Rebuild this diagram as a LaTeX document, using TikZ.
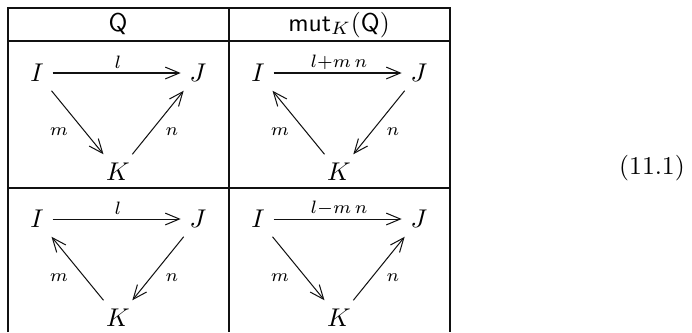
\documentclass[tikz,border=0pt]{standalone}
\usepackage{amsmath,amssymb}
\usepackage{tikz}
\usetikzlibrary{arrows.meta}
\definecolor{ink}{HTML}{111111}
\tikzset{
  obj/.style={inner sep=3.3pt},
  lbl/.style={inner sep=1pt},
  head/.style={anchor=base,inner sep=0pt},
  arr/.style={-{Straight Barb[length=5.5pt,width=4.6pt]},line width=0.4pt,draw=ink},
  rule/.style={line width=0.45pt,draw=ink}
}

\begin{document}
\begin{tikzpicture}[x=0.39pt,y=-0.39pt]
  \useasboundingbox (0,0) rectangle (692,332);
  % table rules
  \draw[rule] (8,332) -- (8,8) -- (450,8) -- (450,332);
  \draw[rule] (229,8) -- (229,332);
  \draw[rule] (8,41) -- (450,41);
  \draw[rule] (8,188) -- (450,188);
  \node[head] (hq) at (118,31) {$\mathsf{Q}$};
  \node[head] (hmut) at (339,31) {$\mathsf{mut}_K(\mathsf{Q})$};
  % Q
  \node[obj] (qI) at (37,73) {$I$};
  \node[obj] (qJ) at (198,73) {$J$};
  \node[obj] (qK) at (118,172) {$K$};
  \draw[arr] (qI) -- (qJ); \draw[arr] (qI) -- (qK); \draw[arr] (qK) -- (qJ);
  \node[lbl] (ql) at (118,62) {$\scriptstyle l$};
  \node[lbl] (qm) at (59,132) {$\scriptstyle m$};
  \node[lbl] (qn) at (172,132) {$\scriptstyle n$};
  % mut_K(Q)
  \node[obj] (mI) at (258,73) {$I$};
  \node[obj] (mJ) at (419,73) {$J$};
  \node[obj] (mK) at (339,172) {$K$};
  \draw[arr] (mI) -- (mJ); \draw[arr] (mK) -- (mI); \draw[arr] (mJ) -- (mK);
  \node[lbl] (ml) at (339,62) {$\scriptstyle l+m\,n$};
  \node[lbl] (mm) at (280,132) {$\scriptstyle m$};
  \node[lbl] (mn) at (393,132) {$\scriptstyle n$};
  % second row, Q
  \node[obj] (rI) at (37,219) {$I$};
  \node[obj] (rJ) at (198,219) {$J$};
  \node[obj] (rK) at (118,318) {$K$};
  \draw[arr] (rI) -- (rJ); \draw[arr] (rK) -- (rI); \draw[arr] (rJ) -- (rK);
  \node[lbl] (rl) at (118,208) {$\scriptstyle l$};
  \node[lbl] (rm) at (59,278) {$\scriptstyle m$};
  \node[lbl] (rn) at (172,278) {$\scriptstyle n$};
  % second row, mut_K(Q)
  \node[obj] (sI) at (258,219) {$I$};
  \node[obj] (sJ) at (419,219) {$J$};
  \node[obj] (sK) at (339,318) {$K$};
  \draw[arr] (sI) -- (sJ); \draw[arr] (sI) -- (sK); \draw[arr] (sK) -- (sJ);
  \node[lbl] (sl) at (339,208) {$\scriptstyle l-m\,n$};
  \node[lbl] (sm) at (280,278) {$\scriptstyle m$};
  \node[lbl] (sn) at (393,278) {$\scriptstyle n$};
  % equation number
  \node (eqno) at (652,168) {(11.1)};
\end{tikzpicture}
\end{document}
